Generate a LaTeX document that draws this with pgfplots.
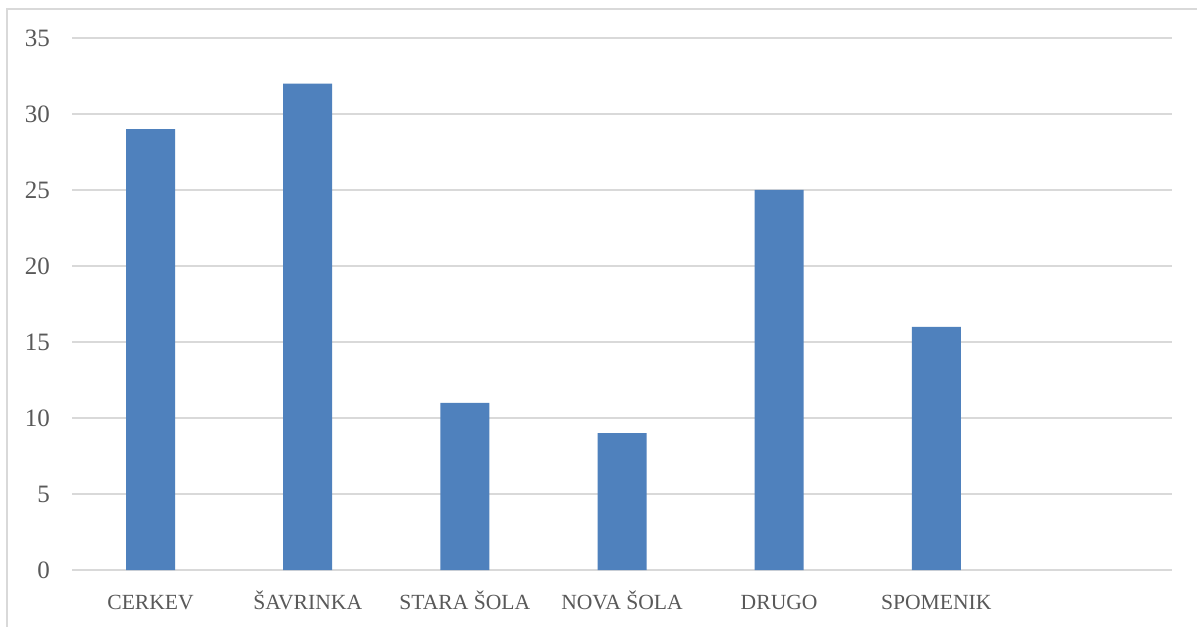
\documentclass[border=0pt]{standalone}
\usepackage{fontspec}
\setmainfont{Liberation Serif}
\usepackage{pgfplots}
\pgfplotsset{compat=1.18}
\definecolor{barblue}{HTML}{4F81BD}
\definecolor{gridgray}{HTML}{D9D9D9}
\definecolor{txtgray}{HTML}{595959}
\begin{document}
\begin{tikzpicture}[x=1pt,y=1pt]
\useasboundingbox (0,0) rectangle (598.5,313);
\fill[white] (0,0) rectangle (598.5,313);
\draw[gridgray, line width=0.75pt] (3.5,-20) -- (3.5,308.5) -- (700,308.5);
\begin{axis}[
  at={(36pt,28pt)}, anchor=south west,
  scale only axis, width=550pt, height=266pt,
  ybar, bar width=24.5pt,
  xmin=-0.5, xmax=6.5, ymin=0, ymax=35,
  xtick={0,1,2,3,4,5},
  xticklabels={CERKEV, ŠAVRINKA, STARA ŠOLA, NOVA ŠOLA, DRUGO, SPOMENIK},
  ytick={0,5,...,35},
  axis line style={draw=none},
  major tick length=0pt,
  ymajorgrids, grid style={gridgray, line width=0.75pt},
  tick label style={font=\fontsize{10.8}{12}\selectfont, text=txtgray},
  /pgf/number format/assume math mode=true,
  yticklabel style={xshift=-7.5pt, font=\fontsize{12.5}{14}\selectfont},
  xticklabel style={anchor=base, yshift=-19.5pt},
]
\addplot[fill=barblue, draw=none] coordinates {(0,29) (1,32) (2,11) (3,9) (4,25) (5,16)};
\end{axis}
\end{tikzpicture}
\end{document}
